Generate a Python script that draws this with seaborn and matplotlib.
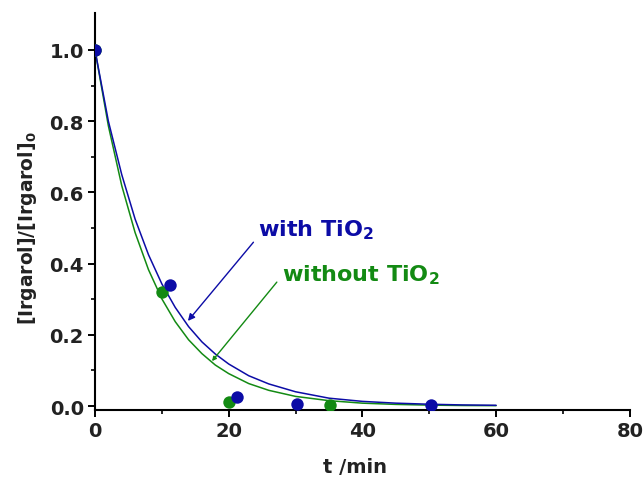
import matplotlib
matplotlib.use("Agg")
import matplotlib.pyplot as plt
import seaborn as sns
import pandas as pd

# measured points
t_with = [0, 11.2, 21.2, 30.2, 50.2]
y_with = [1.0, 0.34, 0.025, 0.006, 0.003]
t_without = [0, 10.0, 20.0, 35.1]
y_without = [1.0, 0.32, 0.01, 0.003]

# fitted curves
fit_t = [0, 2, 4, 6, 8, 10, 12, 14, 16, 18, 20, 23, 26, 30, 35, 40, 45, 50, 55, 60]
fit_with = [1.0, 0.80, 0.65, 0.525, 0.425, 0.343, 0.277, 0.223, 0.180, 0.146,
            0.118, 0.085, 0.062, 0.040, 0.022, 0.013, 0.008, 0.005, 0.003, 0.002]
fit_without = [1.0, 0.787, 0.619, 0.487, 0.383, 0.301, 0.237, 0.186, 0.147, 0.115,
               0.091, 0.063, 0.044, 0.027, 0.015, 0.008, 0.0045, 0.0025, 0.0014, 0.001]

x_ticks = [0, 20, 40, 60, 80]
y_ticks = [0.0, 0.2, 0.4, 0.6, 0.8, 1.0]

BLUE = "#0c0ca6"
GREEN = "#138a13"
TXT = "#222222"

sns.set_theme(style="ticks")
plt.rcParams['font.family'] = ['DejaVu Sans']
plt.rcParams['mathtext.fontset'] = 'custom'
plt.rcParams['mathtext.rm'] = 'DejaVu Sans:bold'
plt.rcParams['mathtext.it'] = 'DejaVu Sans:bold'
plt.rcParams['mathtext.bf'] = 'DejaVu Sans:bold'

fig = plt.figure(figsize=(6.44, 4.85), dpi=100)
ax = fig.add_axes([0.1475, 0.152, 0.8305, 0.82])

df_fit = pd.DataFrame({"t": fit_t + fit_t,
                       "y": fit_without + fit_with,
                       "s": ["without"] * len(fit_t) + ["with"] * len(fit_t)})
sns.lineplot(data=df_fit, x="t", y="y", hue="s",
             palette={"with": BLUE, "without": GREEN},
             lw=1.1, legend=False, ax=ax, sort=False)

sns.scatterplot(x=t_without, y=y_without, color=GREEN, s=80, marker="o",
                edgecolor=GREEN, linewidth=0, ax=ax, zorder=3)
sns.scatterplot(x=t_with, y=y_with, color=BLUE, s=80, marker="o",
                edgecolor=BLUE, linewidth=0, ax=ax, zorder=4)

ax.set_xlim(0, 80)
ax.set_ylim(-0.012, 1.105)
ax.set_xticks(x_ticks)
ax.set_yticks(y_ticks)
ax.set_xticklabels([str(v) for v in x_ticks])
ax.set_yticklabels([f"{v:.1f}" for v in y_ticks])
ax.set_xticks([10, 30, 50, 70], minor=True)
ax.set_yticks([0.1, 0.3, 0.5, 0.7, 0.9], minor=True)
ax.tick_params(which="major", direction="out", length=5, width=1.4,
               labelsize=14, color="black", labelcolor=TXT, pad=3)
ax.tick_params(which="minor", direction="out", length=3, width=1.2, color="black")
for lab in ax.get_xticklabels() + ax.get_yticklabels():
    lab.set_fontweight("bold")
for side in ["top", "right"]:
    ax.spines[side].set_visible(False)
for side in ["left", "bottom"]:
    ax.spines[side].set_linewidth(1.5)
    ax.spines[side].set_color("black")

ax.set_xlabel("t /min", fontsize=14, fontweight="bold", color=TXT)
ax.set_ylabel(r"[Irgarol]/[Irgarol]$_0$", fontsize=13.5, fontweight="bold", color=TXT)
ax.xaxis.set_label_coords(0.487, -0.118)
ax.yaxis.set_label_coords(-0.105, 0.46)

ax.annotate("", xy=(13.9, 0.239), xytext=(23.7, 0.46),
            arrowprops=dict(arrowstyle="-|>", color=BLUE, lw=1.0,
                            mutation_scale=10, shrinkA=0, shrinkB=0))
ax.annotate("", xy=(17.5, 0.126), xytext=(27.2, 0.348),
            arrowprops=dict(arrowstyle="-|>", color=GREEN, lw=1.0,
                            mutation_scale=6, shrinkA=0, shrinkB=0))
ax.text(24.4, 0.497, r"with TiO$_2$", color=BLUE, fontsize=16,
        fontweight="bold", va="center", ha="left")
ax.text(28.0, 0.371, r"without TiO$_2$", color=GREEN, fontsize=16,
        fontweight="bold", va="center", ha="left")

fig.savefig("out.png", dpi=100)
